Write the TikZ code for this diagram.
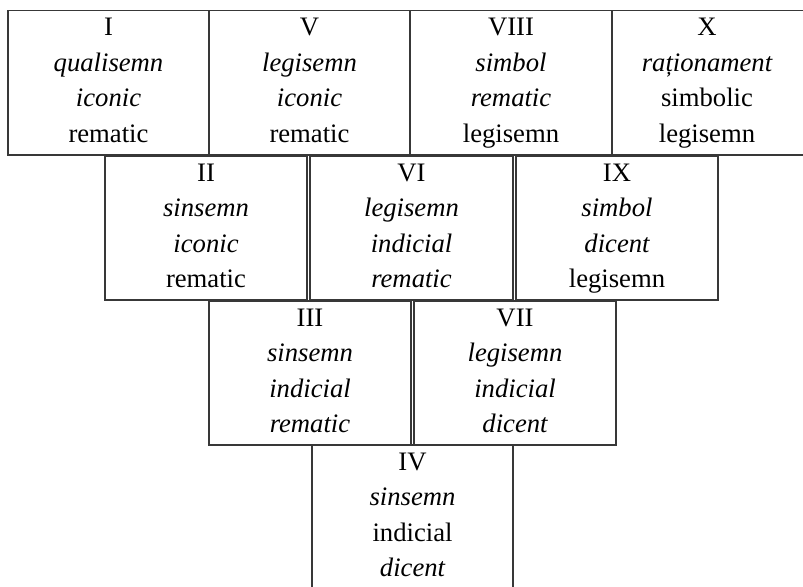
\documentclass[tikz,border=0pt]{standalone}
\usepackage{fontspec}
\setmainfont{Liberation Serif}
\usetikzlibrary{calc}

\tikzset{
  cellbox/.style={draw=black!78, line width=0.9pt},
  txt/.style={anchor=base, inner sep=0pt, font=\fontsize{20}{24}\selectfont},
}

% \signbox{name}{left}{top}{right}{bottom}{text centre x}{line 1}{line 2}{line 3}{line 4}
\newcommand\signbox[9]{%
  \draw[cellbox] (#2,#3) rectangle (#4,#5);
  \coordinate (#1) at (#6,#3);
  \node[txt] (#1a) at ($(#1)+(0,25)$) {#7};
  \node[txt] (#1b) at ($(#1)+(0,60.5)$) {#8};
  \node[txt] (#1c) at ($(#1)+(0,96)$) {#9};
  \signboxlast{#1}}
\newcommand\signboxlast[2]{%
  \node[txt] (#1d) at ($(#1)+(0,131.5)$) {#2};}

\begin{document}
\begin{tikzpicture}[x=0.75pt, y=-0.75pt]
  \useasboundingbox (0,0) rectangle (803,586);

  % first row
  \signbox{b1}{8}{10.5}{209}{155}{108.5}{I}{\itshape qualisemn}{\itshape iconic}{rematic}
  \signbox{b5}{209}{10.5}{410}{155}{309.5}{V}{\itshape legisemn}{\itshape iconic}{rematic}
  \signbox{b8}{410}{10.5}{612}{155}{511}{VIII}{\itshape simbol}{\itshape rematic}{legisemn}
  \signbox{b10}{612}{10.5}{812}{155}{707}{X}{\itshape rațio\-nament}{simbolic}{legisemn}

  % second row
  \signbox{b2}{105}{156}{307}{300}{206}{II}{\itshape sinsemn}{\itshape iconic}{rematic}
  \signbox{b6}{310}{156}{513}{300}{411.5}{VI}{\itshape legisemn}{\itshape indicial}{\itshape rematic}
  \signbox{b9}{516}{156}{718}{300}{617}{IX}{\itshape simbol}{\itshape dicent}{legisemn}

  % third row
  \signbox{b3}{209}{301}{411}{445}{310}{III}{\itshape sinsemn}{\itshape indicial}{\itshape rematic}
  \signbox{b7}{414}{301}{616}{445}{515}{VII}{\itshape legisemn}{\itshape indicial}{\itshape dicent}

  % fourth row
  \signbox{b4}{312}{445}{513}{600}{412.5}{IV}{\itshape sinsemn}{indicial}{\itshape dicent}
\end{tikzpicture}
\end{document}
